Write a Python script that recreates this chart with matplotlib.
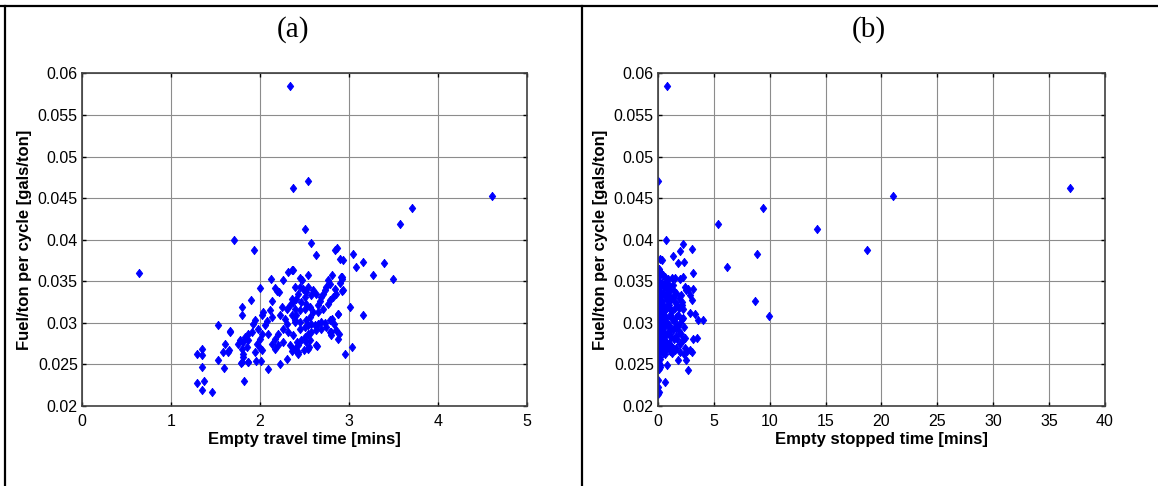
import numpy as np
import matplotlib
matplotlib.use('Agg')
import matplotlib.pyplot as plt
from matplotlib.lines import Line2D

plt.rcParams['font.family'] = ['Liberation Sans', 'DejaVu Sans']

# %% data
# (a) empty travel time [mins] vs fuel/ton per cycle
travel_time = [
    0.64, 2.34, 2.54, 2.37, 4.61, 3.71, 3.57, 2.51, 1.71, 1.93, 2.57, 2.63, 2.84, 2.87,
    2.90, 2.93, 3.04, 3.08, 3.16, 3.27, 3.39, 3.49, 3.01, 3.16, 3.03, 2.96, 2.37, 2.26,
    2.47, 1.53, 1.66, 1.61, 1.58, 1.64, 1.53, 1.59, 1.29, 1.35, 1.35, 1.35, 1.29, 1.37,
    1.35, 1.46, 1.82, 1.79, 1.86, 2.43, 2.37, 2.50, 2.55, 2.64, 2.88, 2.89, 2.80, 2.88,
    2.93, 2.90, 2.92,
    2.356, 2.311, 2.124, 2.195, 2.217, 2.169, 2.000, 1.899, 1.800, 1.800, 2.130, 2.390,
    2.356, 2.375, 2.337, 2.393, 2.300, 2.243, 2.225, 2.356, 2.281, 2.300, 2.393, 2.262,
    2.318, 2.375, 2.206, 2.169, 2.094, 2.056, 2.019, 2.037, 2.112, 2.131, 2.075, 1.944,
    1.925, 1.906, 1.981, 2.019, 2.000, 1.963, 2.000, 2.019, 1.944, 1.869, 1.831, 1.813,
    1.775, 1.757, 1.794, 1.813, 1.813, 1.850, 1.869, 1.663, 1.652, 1.794, 1.861, 1.955,
    2.007, 2.094, 2.225, 2.131, 2.169, 2.206, 2.262, 2.337, 2.356, 2.393, 2.412, 2.300,
    2.539, 2.446, 2.813, 2.914, 2.925, 2.921, 2.764, 2.783, 2.745, 2.727, 2.708, 2.689,
    2.670, 2.652, 2.633, 2.596, 2.577, 2.539, 2.521, 2.502, 2.483, 2.446, 2.427, 2.408,
    2.464, 2.521, 2.558, 2.502, 2.446, 2.408, 2.390, 2.446, 2.521, 2.558, 2.596, 2.652,
    2.708, 2.764, 2.783, 2.820, 2.858, 2.839, 2.446, 2.502, 2.539, 2.577, 2.614, 2.652,
    2.689, 2.727, 2.783, 2.813, 2.828, 2.745, 2.689, 2.633, 2.577, 2.539, 2.502, 2.464,
    2.521, 2.558, 2.427, 2.390, 2.427, 2.539, 2.633, 2.783, 2.858, 2.801, 2.876,
]
fuel_a = [
    0.0360, 0.0585, 0.0470, 0.0462, 0.0453, 0.0438, 0.0419, 0.0413, 0.0400, 0.0388, 0.0396,
    0.0381, 0.0388, 0.0390, 0.0377, 0.0376, 0.0383, 0.0367, 0.0373, 0.0358, 0.0372, 0.0353,
    0.0319, 0.0309, 0.0271, 0.0263, 0.0364, 0.0352, 0.0352, 0.0297, 0.0290, 0.0275, 0.0265,
    0.0265, 0.0255, 0.0246, 0.0262, 0.0269, 0.0261, 0.0247, 0.0228, 0.0230, 0.0219, 0.0217,
    0.0230, 0.0252, 0.0253, 0.0263, 0.0268, 0.0267, 0.0271, 0.0272, 0.0281, 0.0286, 0.0289,
    0.0311, 0.0339, 0.0348, 0.0355,
    0.0363, 0.0361, 0.0353, 0.0338, 0.0337, 0.0342, 0.0342, 0.0328, 0.0319, 0.0309, 0.0326,
    0.0343, 0.0329, 0.0325, 0.0321, 0.0317, 0.0317, 0.0319, 0.0309, 0.0309, 0.0305, 0.0299,
    0.0301, 0.0293, 0.0289, 0.0285, 0.0287, 0.0281, 0.0287, 0.0297, 0.0309, 0.0313, 0.0315,
    0.0307, 0.0302, 0.0303, 0.0299, 0.0289, 0.0293, 0.0287, 0.0281, 0.0275, 0.0270, 0.0267,
    0.0265, 0.0279, 0.0283, 0.0277, 0.0279, 0.0275, 0.0269, 0.0263, 0.0259, 0.0271, 0.0287,
    0.0289, 0.0267, 0.0253, 0.0253, 0.0254, 0.0254, 0.0244, 0.0250, 0.0275, 0.0269, 0.0273,
    0.0277, 0.0273, 0.0266, 0.0269, 0.0277, 0.0257,
    0.0358, 0.0354, 0.0357, 0.0355, 0.0353, 0.0338, 0.0351, 0.0347, 0.0343, 0.0339, 0.0335,
    0.0331, 0.0326, 0.0321, 0.0335, 0.0339, 0.0333, 0.0343, 0.0337, 0.0331, 0.0341, 0.0343,
    0.0335, 0.0329, 0.0325, 0.0323, 0.0319, 0.0317, 0.0315, 0.0309, 0.0303, 0.0301, 0.0303,
    0.0307, 0.0313, 0.0313, 0.0317, 0.0323, 0.0327, 0.0331, 0.0335, 0.0341, 0.0293, 0.0295,
    0.0297, 0.0299, 0.0297, 0.0299, 0.0301, 0.0300, 0.0303, 0.0305, 0.0299, 0.0295, 0.0293,
    0.0291, 0.0289, 0.0287, 0.0283, 0.0279, 0.0277, 0.0279, 0.0273, 0.0269, 0.0265, 0.0269,
    0.0273, 0.0289, 0.0291, 0.0285, 0.0311,
]

# (b) empty stopped time [mins] vs fuel/ton per cycle
stopped_time = [
    0.80, 0.00, 5.34, 6.17, 9.39, 8.89, 8.72, 9.95, 14.23, 18.71, 21.06, 36.85, 0.73, 3.62,
    4.05, 2.21, 1.97, 3.04, 1.37, 1.76, 2.36, 0.18, 0.33, 3.10, 0.12, 0.18, 0.48, 2.27,
    1.97, 0.93, 1.22, 1.52, 0.63, 2.42, 2.72, 3.16, 2.51, 2.87, 3.01, 2.12, 2.87, 3.31,
    2.27, 2.12, 3.46, 3.16, 2.42, 2.27, 2.87, 3.01, 2.57, 1.82, 2.51, 2.72, 0.78, 0.63,
    0.03, 0.03, 0.12, 0.03, 0.18, 0.12, 0.03,
    0.05, 0.20, 0.08, 0.25, 0.02, 0.15, 0.30, 0.06, 0.22, 0.10, 0.28, 0.03, 0.18, 0.08,
    0.26, 0.02, 0.14, 0.30, 0.05, 0.20, 0.10, 0.27, 0.03, 0.16, 0.08, 0.24, 0.02, 0.15,
    0.05, 0.22, 0.08,
    0.40, 0.55, 0.70, 0.85, 0.45, 0.62, 0.78, 0.38, 0.52, 0.68, 0.88, 0.42, 0.58, 0.75,
    0.35, 0.50, 0.65, 0.82, 0.40, 0.56, 0.72, 0.88, 0.45, 0.60, 0.78, 0.36, 0.52, 0.68,
    0.85, 0.42, 0.60,
    0.95, 1.10, 1.30, 1.45, 1.00, 1.18, 1.38, 1.55, 0.98, 1.12, 1.28, 1.48, 1.05, 1.22,
    1.40, 1.58, 0.95, 1.10, 1.32, 1.50, 1.02, 1.20, 1.42, 1.58, 0.96, 1.15, 1.35, 1.05,
    1.25, 1.48,
    1.65, 1.85, 2.05, 1.70, 1.92, 2.15, 1.75, 1.95, 2.20, 1.68, 1.88, 2.10, 1.72, 1.95,
    2.30, 2.40, 1.65, 2.00, 2.35,
]
fuel_b = [
    0.0585, 0.0470, 0.0419, 0.0367, 0.0438, 0.0383, 0.0326, 0.0308, 0.0413, 0.0388, 0.0453,
    0.0462, 0.0400, 0.0304, 0.0304, 0.0395, 0.0386, 0.0389, 0.0380, 0.0372, 0.0373, 0.0377,
    0.0375, 0.0360, 0.0363, 0.0361, 0.0357, 0.0355, 0.0353, 0.0353, 0.0354, 0.0354, 0.0355,
    0.0343, 0.0341, 0.0341, 0.0339, 0.0333, 0.0327, 0.0325, 0.0312, 0.0311, 0.0317, 0.0305,
    0.0282, 0.0280, 0.0282, 0.0279, 0.0267, 0.0265, 0.0266, 0.0255, 0.0255, 0.0243, 0.0249,
    0.0229, 0.0231, 0.0223, 0.0217, 0.0215, 0.0249, 0.0259, 0.0265,
    0.0365, 0.0358, 0.0350, 0.0346, 0.0342, 0.0338, 0.0334, 0.0331, 0.0327, 0.0323, 0.0319,
    0.0316, 0.0312, 0.0308, 0.0305, 0.0301, 0.0298, 0.0295, 0.0291, 0.0288, 0.0284, 0.0281,
    0.0277, 0.0274, 0.0270, 0.0267, 0.0262, 0.0256, 0.0252, 0.0247, 0.0244,
    0.0348, 0.0343, 0.0349, 0.0340, 0.0336, 0.0332, 0.0328, 0.0326, 0.0320, 0.0317, 0.0321,
    0.0313, 0.0309, 0.0306, 0.0303, 0.0299, 0.0296, 0.0300, 0.0292, 0.0288, 0.0285, 0.0289,
    0.0281, 0.0278, 0.0276, 0.0273, 0.0270, 0.0268, 0.0271, 0.0264, 0.0262,
    0.0345, 0.0340, 0.0346, 0.0338, 0.0333, 0.0329, 0.0331, 0.0325, 0.0322, 0.0317, 0.0314,
    0.0318, 0.0310, 0.0305, 0.0302, 0.0307, 0.0298, 0.0294, 0.0291, 0.0295, 0.0286, 0.0283,
    0.0280, 0.0284, 0.0276, 0.0272, 0.0270, 0.0266, 0.0264, 0.0267,
    0.0336, 0.0330, 0.0334, 0.0322, 0.0318, 0.0321, 0.0310, 0.0300, 0.0306, 0.0296, 0.0290,
    0.0287, 0.0280, 0.0274, 0.0295, 0.0270, 0.0270, 0.0265, 0.0262,
]

y_ticks = [0.02, 0.025, 0.03, 0.035, 0.04, 0.045, 0.05, 0.055, 0.06]
y_tick_labels = ['0.02', '0.025', '0.03', '0.035', '0.04', '0.045', '0.05', '0.055', '0.06']
xticks_a = [0, 1, 2, 3, 4, 5]
xticks_b = [0, 5, 10, 15, 20, 25, 30, 35, 40]

# matlab style diamond, a bit fatter than mpl's 'd'
diamond = [(0, 1), (0.78, 0), (0, -1), (-0.78, 0), (0, 1)]

# %% figure
fig = plt.figure(figsize=(11.58, 4.86), dpi=100)


def style_axes(ax, xticks, xlabel):
    ax.set_xlim(xticks[0], xticks[-1])
    ax.set_ylim(0.02, 0.06)
    ax.set_xticks(xticks)
    ax.set_xticklabels([str(t) for t in xticks])
    ax.set_yticks(y_ticks)
    ax.set_yticklabels(y_tick_labels)
    ax.grid(True, color='0.55', linewidth=0.8)
    ax.set_axisbelow(True)
    ax.tick_params(direction='in', length=3, width=1, top=True, right=True,
                   labelsize=11.5, colors='black')
    ax.tick_params(axis='x', pad=6)
    ax.tick_params(axis='y', pad=3)
    for s in ax.spines.values():
        s.set_linewidth(1.2)
        s.set_color('0.25')
    ax.set_xlabel(xlabel, fontsize=12, fontweight='bold', labelpad=2)
    ax.set_ylabel('Fuel/ton per cycle [gals/ton]', fontsize=12, fontweight='bold', labelpad=4)


ax1 = fig.add_axes([0.0708, 0.1646, 0.3843, 0.6845])
ax1.plot(travel_time, fuel_a, linestyle='none', marker=diamond, color='blue',
         markersize=6, markeredgewidth=0.6)
style_axes(ax1, xticks_a, 'Empty travel time [mins]')

ax2 = fig.add_axes([0.5682, 0.1646, 0.3860, 0.6845])
ax2.plot(stopped_time, fuel_b, linestyle='none', marker=diamond, color='blue',
         markersize=6, markeredgewidth=0.6)
style_axes(ax2, xticks_b, 'Empty stopped time [mins]')

# panel titles
fig.text(0.253, 0.94, '(a)', family='Liberation Serif', fontsize=21, ha='center', va='center')
fig.text(0.7504, 0.94, '(b)', family='Liberation Serif', fontsize=21, ha='center', va='center')

# table cell borders
fig.add_artist(Line2D([0, 1], [0.9877, 0.9877], color='black', linewidth=1.6))
fig.add_artist(Line2D([0.0043, 0.0043], [0, 0.9877], color='black', linewidth=1.6))
fig.add_artist(Line2D([0.5026, 0.5026], [0, 0.9877], color='black', linewidth=1.6))

plt.savefig('out.png', dpi=100)
